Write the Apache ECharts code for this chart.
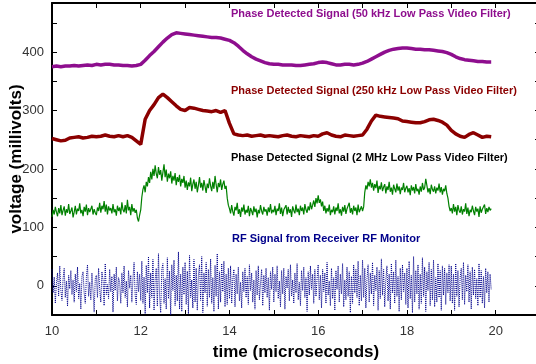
<!DOCTYPE html>
<html>
<head>
<meta charset="utf-8">
<script src="https://cdn.jsdelivr.net/npm/echarts@6/dist/echarts.min.js"></script>
<style>html,body{margin:0;padding:0;background:#fff}#c{width:536px;height:364px}</style>
</head>
<body>
<div id="c"></div>
<script>
// time grids (microseconds)
const t0 = 10;
const dtSlow = 0.1;    // sampling of the 50 kHz / 250 kHz traces
const dtFast = 0.025;  // sampling of the 2 MHz / RF traces

const xTickLabels = ['10', '12', '14', '16', '18', '20'];
const yTickLabels = ['0', '100', '200', '300', '400'];

const seriesNames = [
  'Phase Detected Signal (50 kHz Low Pass Video Filter)',
  'Phase Detected Signal (250 kHz Low Pass Video Filter)',
  'Phase Detected Signal (2 MHz Low Pass Video Filter)',
  'RF Signal from Receiver RF Monitor'
];

const filter50k = [
  375,376,375,376,376,377,376,377,378,377, 379,378,379,379,378,378,377,377,376,377,
  379,386,394,401,409,417,424,430,433,432, 431,430,429,428,427,426,425,425,424,422,
  420,416,410,403,397,392,388,385,382,380, 379,379,378,378,378,377,377,378,379,380,
  382,383,382,380,378,378,379,379,378,379, 381,384,388,392,396,400,403,405,406,407,
  407,406,405,405,404,404,403,402,401,399, 396,392,389,387,386,385,384,384,383,383
];

const filter250k = [
  252,250,248,249,253,254,255,253,254,256, 255,256,258,256,255,257,255,257,254,248,
  242,285,300,310,322,328,322,315,308,302, 300,305,304,302,300,299,298,300,297,300,
  278,260,258,257,258,256,257,258,256,257, 256,255,257,258,256,255,257,256,255,257,
  256,260,262,258,256,255,258,257,256,257, 258,268,282,292,290,289,288,287,286,282,
  281,280,279,279,281,284,285,283,280,275, 266,260,256,254,259,262,258,254,256,255
];

const filter2M = [
  118,130,122,135,126,119,133,124,138,121,129,136,120,131,125,140,123,128,134,117,
  126,137,122,132,128,141,124,130,119,135,127,139,121,133,126,129,137,122,131,125,
  121,134,128,142,125,137,131,145,127,139,122,136,129,133,124,140,126,131,120,137,
  128,134,122,143,130,126,138,124,147,129,135,121,140,127,133,125,130,116,110,121,
  130,152,165,172,160,178,170,186,176,195,182,200,188,206,192,184,203,190,198,180,
  194,208,186,199,178,192,184,196,175,188,180,193,172,186,178,190,170,183,176,188,
  168,180,164,177,170,185,162,174,182,166,178,160,172,186,168,176,163,181,170,159,
  175,167,184,171,162,178,166,188,173,160,176,169,182,164,174,180,166,171,150,138,
  132,124,138,127,120,135,129,142,123,131,118,134,127,139,122,130,125,137,119,133,
  128,121,136,126,132,117,130,124,138,128,122,135,127,131,120,134,126,140,124,130,
  126,137,121,132,128,141,123,134,119,130,127,138,122,135,125,131,118,136,129,124,
  139,126,132,121,137,128,134,122,140,130,125,136,129,143,131,138,146,135,150,141,
  155,142,148,136,144,128,137,124,133,127,139,121,130,126,136,122,134,128,141,124,
  131,120,135,127,138,123,132,129,142,125,133,122,137,128,134,121,139,126,131,136,
  128,135,160,172,165,178,170,182,168,176,163,174,167,180,159,171,165,177,162,169,
  174,158,170,164,178,161,168,156,173,166,160,175,163,170,157,168,164,176,160,167,
  171,160,167,155,172,163,169,158,174,162,166,156,170,161,176,164,168,183,172,160,
  167,157,173,165,161,170,158,168,163,175,160,169,156,166,162,172,158,150,136,128,
  133,124,140,127,135,121,138,129,125,136,122,131,127,141,123,134,119,130,126,137,
  128,121,135,127,132,118,136,125,131,128,139,123,133,126,135,129,132
];

const rfMonitor = [
  28,-12,15,-30,5,22,-18,34,-8,-25,12,30,-20,8,-35,18,-5,26,-15,10,
  -28,20,-10,32,-22,4,-40,16,24,-12,-30,14,36,-18,6,-24,22,-8,-45,12,
  18,-20,30,-6,-28,24,10,-34,38,-15,2,-22,28,-10,16,-45,20,-8,32,-26,
  14,6,-30,22,-12,34,-20,8,-36,26,-4,18,-28,12,40,-16,-32,24,-10,20,
  -25,42,-30,15,-48,35,-12,50,-38,22,-20,45,-42,10,30,-35,55,-18,-46,28,
  38,-30,12,-40,48,-22,25,-50,36,-8,44,-34,18,-26,58,-40,20,-44,32,-15,
  40,-32,25,-48,52,-20,10,-38,45,-28,30,-42,18,36,-25,50,-46,22,-12,40,
  -35,28,-20,46,-30,14,-44,35,-18,55,-40,24,-28,38,-10,42,-36,20,-32,30,
  -22,34,-30,12,28,-36,20,-14,32,-26,6,-38,24,-10,30,-20,16,-32,36,-8,
  22,-28,10,-40,26,-16,34,-24,4,28,-34,18,-12,30,-20,14,-42,24,-6,32,
  -28,20,-10,34,-22,8,-36,26,-14,30,-40,16,-4,28,-26,36,-18,10,-30,22,
  -12,38,-24,6,-34,26,-8,32,-20,14,-44,24,-16,34,-6,20,-30,28,-18,12,
  36,-24,18,-38,28,-10,22,-30,40,-16,8,-34,30,-22,14,-42,26,-6,34,-28,
  20,-14,38,-36,10,-24,32,-18,24,-46,16,-30,36,-12,28,-20,42,-34,18,-26,
  44,-20,30,-38,12,36,-28,22,-14,40,-34,18,-8,32,-42,26,-22,46,-16,28,
  -36,10,34,-26,20,-40,38,-12,24,-30,44,-18,16,-44,30,-24,36,-10,22,-32,
  30,-38,42,-22,18,-46,50,-28,26,-14,36,-40,20,-30,48,-18,32,-44,24,-8,
  40,-34,28,-24,44,-36,14,-28,38,-20,26,-42,34,-16,30,-32,22,-12,36,-26,
  34,-30,20,-42,38,-18,26,-36,14,30,-24,40,-32,18,-10,36,-28,24,-40,32,
  -16,28,-22,12,-34,38,-20,26,-30,16,-38,30,-12,24,-28,20,-6
];

function pairs(vals, dt) {
  return vals.map((v, i) => [+(t0 + i * dt).toFixed(3), v]);
}

const FONT = '"Liberation Sans", Arial, sans-serif';
const chart = echarts.init(document.getElementById('c'), null, { renderer: 'canvas' });

const frameLine = { show: true, onZero: false, lineStyle: { color: '#000', width: 2 } };
const tickIn = { show: true, inside: true, length: 5, lineStyle: { color: '#000', width: 1 } };

chart.setOption({
  animation: false,
  backgroundColor: '#fff',
  grid: { left: 52, top: 3, width: 488, height: 312, containLabel: false, outerBoundsMode: 'none' },
  xAxis: [
    {
      type: 'value', min: 10, max: 21, interval: 1,
      axisLine: frameLine, axisTick: tickIn, splitLine: { show: false },
      axisLabel: {
        color: '#333', fontSize: 13, fontFamily: FONT, margin: 10,
        formatter: v => xTickLabels.includes(String(v)) ? String(v) : ''
      },
      name: 'time (microseconds)', nameLocation: 'middle', nameGap: 29, nameMoveOverlap: false,
      nameTextStyle: { color: '#000', fontSize: 17, fontWeight: 'bold', fontFamily: FONT }
    },
    {
      type: 'value', min: 10, max: 21, interval: 1, position: 'top',
      axisLine: frameLine, axisTick: tickIn, axisLabel: { show: false }, splitLine: { show: false }
    }
  ],
  yAxis: [
    {
      type: 'value', min: -50, max: 484, interval: 50,
      axisLine: frameLine, axisTick: tickIn, splitLine: { show: false },
      axisLabel: {
        color: '#333', fontSize: 13, fontFamily: FONT, margin: 8,
        formatter: v => yTickLabels.includes(String(v)) ? String(v) : ''
      },
      name: 'voltage (millivolts)', nameLocation: 'middle', nameGap: 27, nameRotate: 90,
      nameMoveOverlap: false,
      nameTextStyle: { color: '#000', fontSize: 17, fontWeight: 'bold', fontFamily: FONT }
    },
    {
      type: 'value', min: -50, max: 484, interval: 50, position: 'right',
      axisLine: frameLine, axisTick: tickIn, axisLabel: { show: false }, splitLine: { show: false }
    }
  ],
  series: [
    { name: seriesNames[0], type: 'line', data: pairs(filter50k, dtSlow), showSymbol: false,
      lineStyle: { color: '#8e0e8e', width: 3.5 } },
    { name: seriesNames[1], type: 'line', data: pairs(filter250k, dtSlow), showSymbol: false,
      lineStyle: { color: '#8b0000', width: 3.5 } },
    { name: seriesNames[2], type: 'line', data: pairs(filter2M, dtFast), showSymbol: false,
      lineStyle: { color: '#008000', width: 1.2 } },
    { name: seriesNames[3], type: 'line', data: pairs(rfMonitor, dtFast), showSymbol: false,
      lineStyle: { color: '#00008b', width: 1, type: [1, 1] } }
  ],
  graphic: [
    { type: 'text', left: 231, top: 8, style: { text: seriesNames[0], fill: '#8e0e8e', font: 'bold 11px ' + FONT } },
    { type: 'text', left: 231, top: 85, style: { text: seriesNames[1], fill: '#8b0000', font: 'bold 11px ' + FONT } },
    { type: 'text', left: 231, top: 152, style: { text: seriesNames[2], fill: '#000', font: 'bold 11px ' + FONT } },
    { type: 'text', left: 232, top: 233, style: { text: seriesNames[3], fill: '#00008b', font: 'bold 11px ' + FONT } }
  ]
});
</script>
</body>
</html>
